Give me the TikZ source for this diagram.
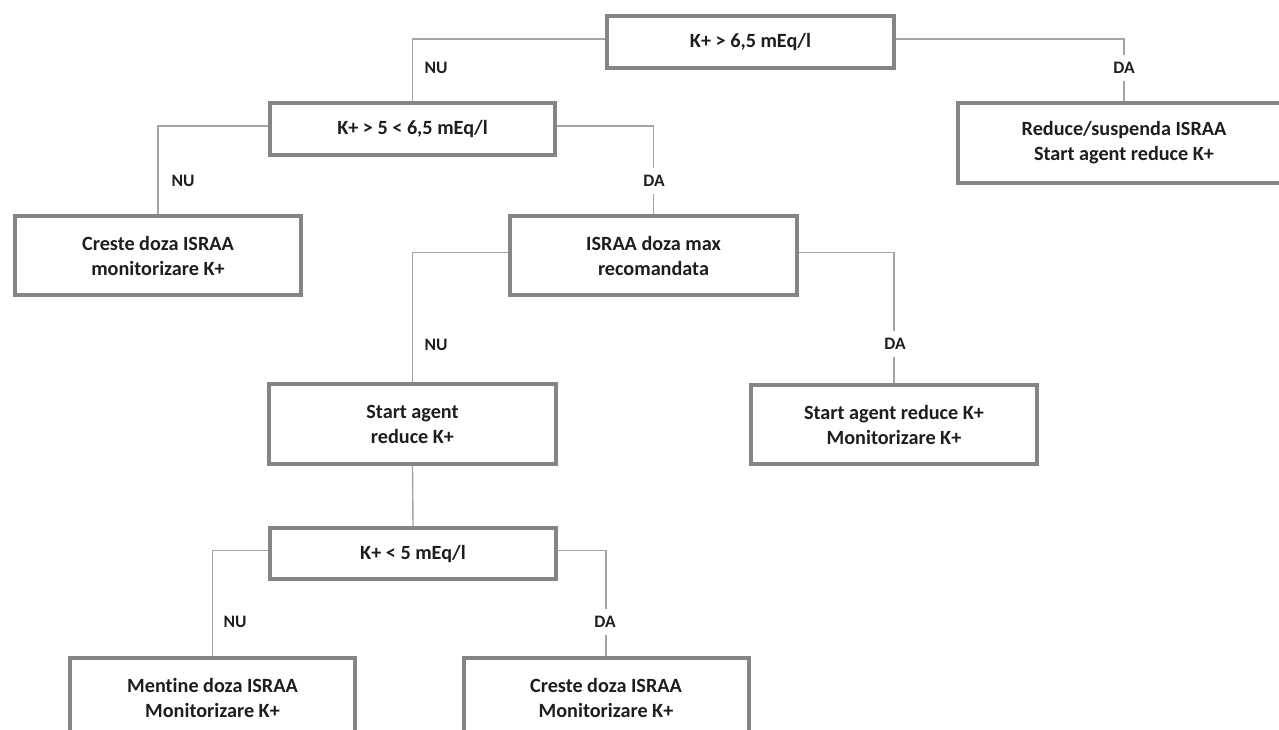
\documentclass[tikz,border=0pt]{standalone}
\usepackage{fontspec}
\setmainfont{Carlito}[Ligatures=NoCommon]
\usetikzlibrary{backgrounds}
\definecolor{boxgray}{HTML}{858585}
\definecolor{linegray}{HTML}{A5A5A5}
\definecolor{txt}{HTML}{1E1E1E}
\begin{document}
\begin{tikzpicture}[x=1pt,y=-1pt,
  box/.style={draw=boxgray, line width=4pt, fill=white, align=center, inner sep=0pt,
    font=\fontsize{20.2}{25}\selectfont\bfseries, text=txt},
  conn/.style={draw=linegray, line width=1.4pt},
  lab/.style={font=\fontsize{17.5}{19}\selectfont\bfseries, text=txt},
  labfill/.style={lab, fill=white, inner xsep=2pt, inner ysep=7.5pt}]
\useasboundingbox (0,0) rectangle (1279,729);
\clip (0,0) rectangle (1279,729);
% boxes
\node[box, minimum width=287pt, minimum height=52.5pt] (b1) at (750.5,42) {K+ > 6,5 mEq/l};
\node[box, minimum width=285pt, minimum height=52pt] (b2) at (412.5,129) {K+ > 5 < 6,5 mEq/l};
\node[box, minimum width=332pt, minimum height=80pt] (b3) at (1124,143) {Reduce/suspenda ISRAA\\Start agent reduce K+};
\node[box, minimum width=286pt, minimum height=79pt] (b4) at (158,255.5) {Creste doza ISRAA\\monitorizare K+};
\node[box, minimum width=287pt, minimum height=79pt] (b5) at (653.5,255.5) {ISRAA doza max\\recomandata};
\node[box, minimum width=287pt, minimum height=80pt] (b6) at (412.5,424) {Start agent\\reduce K+};
\node[box, minimum width=286pt, minimum height=79pt] (b7) at (894,424.5) {Start agent reduce K+\\Monitorizare K+};
\node[box, minimum width=286pt, minimum height=51pt] (b8) at (413,553.5) {K+ < 5 mEq/l};
\node[box, minimum width=285pt, minimum height=79pt] (b9) at (212.5,697.5) {Mentine doza ISRAA\\Monitorizare K+};
\node[box, minimum width=285pt, minimum height=79pt] (b10) at (606,697.5) {Creste doza ISRAA\\Monitorizare K+};
% connectors
\begin{scope}[on background layer]
\draw[conn] ([yshift=3pt]b1.west) -| (b2.north);
\draw[conn] ([yshift=3pt]b1.east) -| (b3.north);
\draw[conn] ([yshift=3pt]b2.west) -| (b4.north);
\draw[conn] ([yshift=3pt]b2.east) -| (b5.north);
\draw[conn] ([yshift=3pt]b5.west) -| (b6.north);
\draw[conn] ([yshift=3pt]b5.east) -| (b7.north);
\draw[conn] (b6.south) -- (b8.north);
\draw[conn] ([yshift=3pt]b8.west) -| (b9.north);
\draw[conn] ([yshift=3pt]b8.east) -| (b10.north);
\end{scope}
% labels
\node[lab] (n1) at (436,68) {NU};
\node[labfill] (d1) at (1124,68) {DA};
\node[lab] (n2) at (183,181) {NU};
\node[labfill] (d2) at (654,181) {DA};
\node[lab] (n3) at (436,345) {NU};
\node[labfill] (d3) at (895,344) {DA};
\node[lab] (n4) at (235,622) {NU};
\node[labfill] (d4) at (605,622) {DA};
\end{tikzpicture}
\end{document}
